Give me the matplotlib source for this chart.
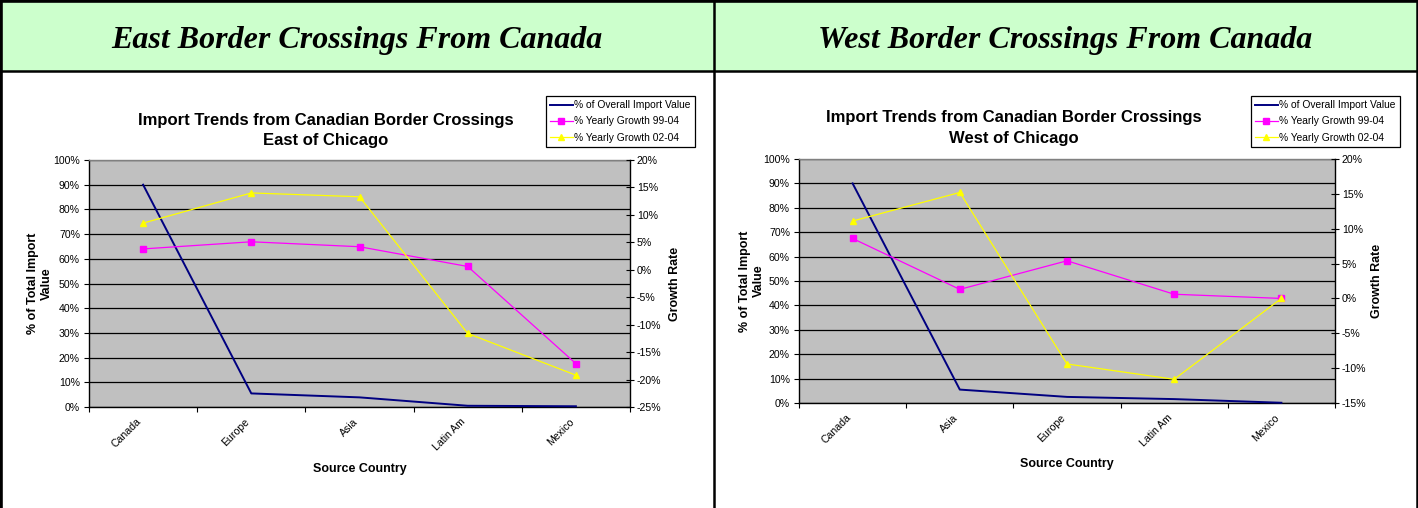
import matplotlib
matplotlib.use("Agg")
import matplotlib.pyplot as plt
from matplotlib.lines import Line2D
from matplotlib.patches import Rectangle
from matplotlib.ticker import FuncFormatter, FixedLocator

# ---------------- data ----------------
east_categories = ["Canada", "Europe", "Asia", "Latin Am", "Mexico"]
east_overall = [90.0, 5.5, 3.9, 0.5, 0.3]
east_growth_9904 = [3.8, 5.1, 4.2, 0.6, -17.1]
east_growth_0204 = [8.5, 14.0, 13.3, -11.6, -19.2]

west_categories = ["Canada", "Asia", "Europe", "Latin Am", "Mexico"]
west_overall = [90.0, 5.5, 2.5, 1.6, 0.1]
west_growth_9904 = [8.6, 1.3, 5.4, 0.6, 0.0]
west_growth_0204 = [11.1, 15.2, -9.4, -11.6, 0.0]

series_names = ["% of Overall Import Value", "% Yearly Growth 99-04", "% Yearly Growth 02-04"]
headers = ["East Border Crossings From Canada", "West Border Crossings From Canada"]
titles = ["Import Trends from Canadian Border Crossings\nEast of Chicago",
          "Import Trends from Canadian Border Crossings\nWest of Chicago"]

W, H = 1418, 508
fig = plt.figure(figsize=(W / 100, H / 100), dpi=100)
fig.patch.set_facecolor("white")
plt.rcParams["font.family"] = ["Liberation Sans", "DejaVu Sans"]


def fx(x):
    return x / W


def fy(y):
    return 1 - y / H


# ---------------- table frame ----------------
fig.add_artist(Rectangle((0, fy(71)), 1, 1 - fy(71), transform=fig.transFigure,
                         facecolor="#CCFFCC", edgecolor="none", zorder=0))
for (x0, y0, x1, y1, lw) in [
    (0, 1.2, W, 1.2, 2.6),      # top
    (1.3, 0, 1.3, H, 2.6),      # left
    (W - 1.2, 0, W - 1.2, H, 1.8),  # right
    (714, 0, 714, H, 1.8),      # middle
    (0, 71, W, 71, 1.8),        # header bottom
]:
    fig.add_artist(Line2D([fx(x0), fx(x1)], [fy(y0), fy(y1)], transform=fig.transFigure,
                          color="black", lw=lw, zorder=5))

for hx, txt in zip([357, 1065], headers):
    fig.text(fx(hx), fy(48), txt, ha="center", va="baseline", fontsize=23,
             family=["Liberation Serif", "DejaVu Serif"], fontweight="bold", fontstyle="italic")

# ---------------- charts ----------------
configs = [
    dict(cats=east_categories, ov=east_overall, g1=east_growth_9904, g2=east_growth_0204,
         box=(89, 160, 630, 407), rlim=(-25, 20), title=titles[0], title_xy=(326, 130.5),
         leg=(546, 96), ylab_x=40, rlab_x=675, xlab_y=469),
    dict(cats=west_categories, ov=west_overall, g1=west_growth_9904, g2=west_growth_0204,
         box=(799, 159, 1335, 403), rlim=(-15, 20), title=titles[1], title_xy=(1014, 128),
         leg=(1251, 96), ylab_x=752, rlab_x=1377, xlab_y=464),
]

tick_fs = 7.6
for c in configs:
    x0, y0, x1, y1 = c["box"]
    ax = fig.add_axes([fx(x0), fy(y1), fx(x1) - fx(x0), fy(y0) - fy(y1)])
    ax.set_facecolor("#C0C0C0")
    n = len(c["cats"])
    xs = [i + 0.5 for i in range(n)]
    ax.set_xlim(0, n)
    ax.set_ylim(0, 100)
    ax.yaxis.set_major_locator(FixedLocator(list(range(0, 101, 10))))
    ax.yaxis.set_major_formatter(FuncFormatter(lambda v, p: f"{v:.0f}%"))
    ax.grid(axis="y", color="black", lw=0.9, zorder=1)
    ax.set_axisbelow(True)
    ax.xaxis.set_major_locator(FixedLocator(list(range(n + 1))))
    ax.xaxis.set_minor_locator(FixedLocator(xs))
    ax.set_xticklabels([""] * (n + 1))
    ax.set_xticklabels(c["cats"], minor=True, rotation=45, ha="right", va="top",
                       fontsize=tick_fs)
    ax.tick_params(axis="x", which="major", direction="out", length=3.5, width=0.8)
    ax.tick_params(axis="x", which="minor", length=0, pad=7)
    ax.tick_params(axis="y", direction="out", length=3.5, width=0.8, labelsize=tick_fs, pad=3)
    for s in ["left", "bottom"]:
        ax.spines[s].set_color("black")
        ax.spines[s].set_linewidth(1.0)
    ax.spines["top"].set_color("#808080")
    ax.spines["top"].set_linewidth(1.0)
    ax.spines["right"].set_visible(False)

    l1, = ax.plot(xs, c["ov"], color="#000080", lw=1.4, zorder=3, clip_on=False)

    ax2 = ax.twinx()
    ax2.set_ylim(*c["rlim"])
    ax2.yaxis.set_major_locator(FixedLocator(list(range(c["rlim"][0], c["rlim"][1] + 1, 5))))
    ax2.yaxis.set_major_formatter(FuncFormatter(lambda v, p: f"{v:.0f}%"))
    ax2.tick_params(axis="y", direction="inout", length=6, width=0.8, labelsize=tick_fs, pad=2)
    ax2.spines["right"].set_color("black")
    ax2.spines["right"].set_linewidth(1.0)
    for s in ["left", "top", "bottom"]:
        ax2.spines[s].set_visible(False)
    l2, = ax2.plot(xs, c["g1"], color="#FF00FF", lw=0.9, marker="s", markersize=4.2,
                   markeredgecolor="#FF00FF", zorder=4, clip_on=False)
    l3, = ax2.plot(xs, c["g2"], color="#FFFF00", lw=0.9, marker="^", markersize=4.6,
                   markeredgecolor="#FFFF00", zorder=4, clip_on=False)

    # labels in figure pixel coordinates
    fig.text(fx((x0 + x1) / 2), fy(c["xlab_y"]), "Source Country",
             ha="center", va="center", fontsize=9, fontweight="bold")
    fig.text(fx(c["ylab_x"]), fy((y0 + y1) / 2), "% of Total Import\nValue", rotation=90,
             ha="center", va="center", fontsize=9, fontweight="bold", multialignment="center",
             linespacing=1.25)
    fig.text(fx(c["rlab_x"]), fy((y0 + y1) / 2), "Growth Rate", rotation=90,
             ha="center", va="center", fontsize=9, fontweight="bold")
    fig.text(fx(c["title_xy"][0]), fy(c["title_xy"][1]), c["title"], ha="center", va="center",
             fontsize=12, fontweight="bold", linespacing=1.45)

    lx, ly = c["leg"]
    leg = fig.legend([l1, l2, l3], series_names, loc="upper left",
                     bbox_to_anchor=(fx(lx), fy(ly)), bbox_transform=fig.transFigure,
                     fontsize=7.4, frameon=True, fancybox=False, edgecolor="black",
                     framealpha=1, borderpad=0.4, labelspacing=0.62, handlelength=2.2,
                     handletextpad=0.15, borderaxespad=0, numpoints=1, markerscale=0.9)
    leg.get_frame().set_linewidth(0.9)

fig.savefig("out.png", dpi=100)
